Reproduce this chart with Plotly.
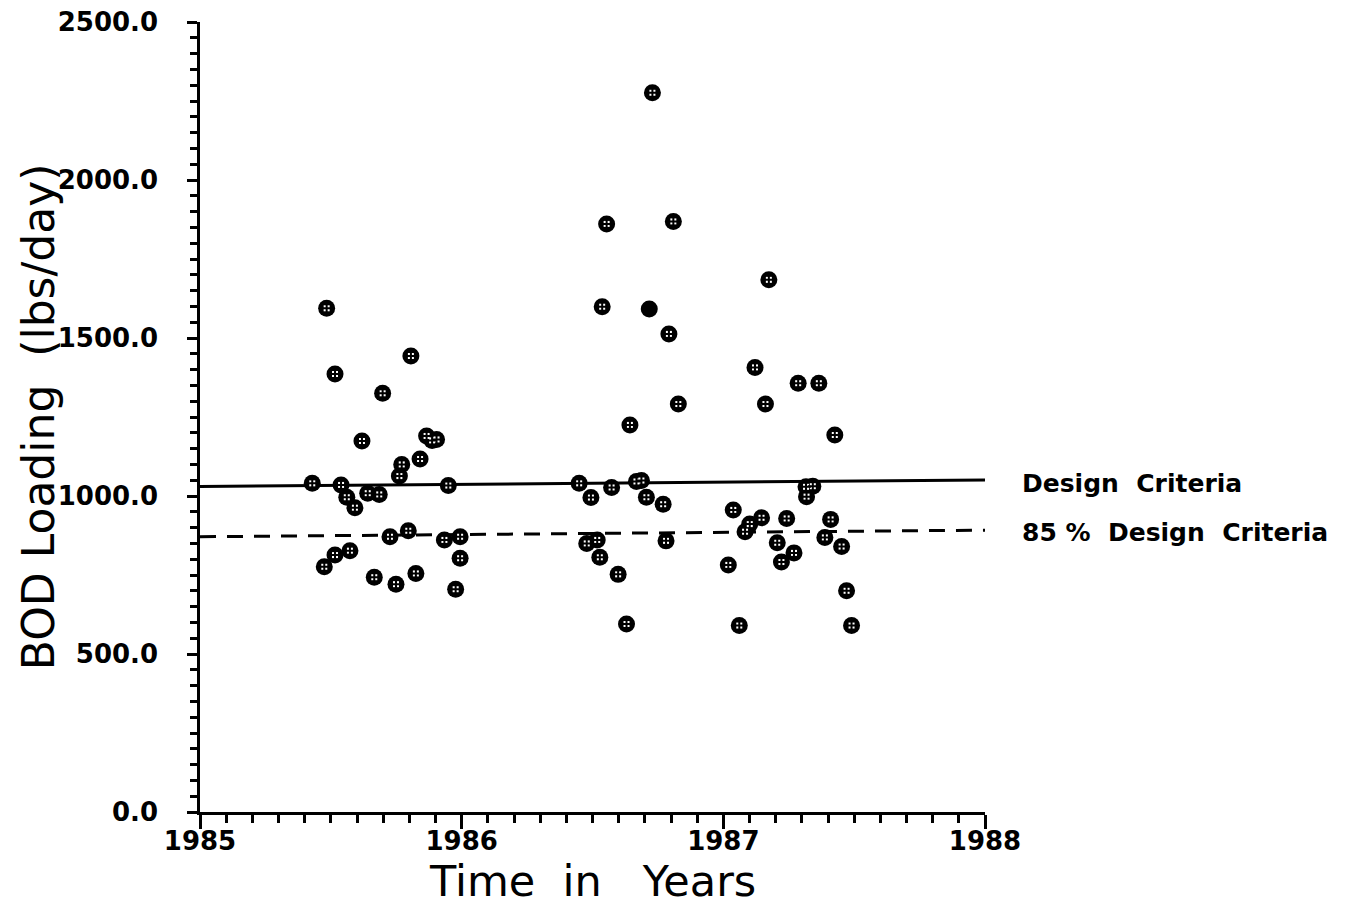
import plotly.graph_objects as go

# ---- data ----
dates = [
    1985.429, 1985.484, 1985.516, 1985.698, 1985.806, 1985.619, 1985.866, 1985.887,
    1985.904, 1985.841, 1985.771, 1985.762, 1985.539, 1985.561, 1985.592, 1985.641,
    1985.685, 1985.949, 1985.726, 1985.796, 1985.934, 1985.994, 1985.994, 1985.516,
    1985.573, 1985.475, 1985.666, 1985.749, 1985.825, 1985.977,
    1986.729, 1986.554, 1986.809, 1986.537, 1986.792, 1986.828, 1986.643, 1986.449,
    1986.494, 1986.573, 1986.668, 1986.687, 1986.706, 1986.770, 1986.478, 1986.518,
    1986.528, 1986.598, 1986.781, 1986.630,
    1987.174, 1987.121, 1987.286, 1987.365, 1987.161, 1987.426, 1987.316, 1987.342,
    1987.318, 1987.038, 1987.019, 1987.061, 1987.083, 1987.101, 1987.146, 1987.242,
    1987.410, 1987.388, 1987.206, 1987.222, 1987.270, 1987.452, 1987.471, 1987.490,
]
bod_loading = [
    1040, 1594, 1386, 1325, 1443, 1174, 1190, 1176,
    1179, 1117, 1100, 1063, 1035, 996, 963, 1009,
    1005, 1033, 871, 890, 861, 871, 803, 813,
    827, 776, 743, 721, 755, 705,
    2276, 1861, 1869, 1599, 1513, 1291, 1225, 1040,
    995, 1027, 1046, 1049, 996, 974, 850, 861,
    806, 752, 858, 595,
    1684, 1407, 1357, 1357, 1291, 1193, 1029, 1031,
    998, 956, 782, 590, 887, 911, 931, 929,
    926, 869, 852, 791, 820, 840, 700, 590,
]
# one point printed as a solid dot
solid_dates = [1986.717]
solid_loading = [1592]

line_x = [1985.0, 1988.0]
design_criteria = [1030, 1051]
design_85 = [871, 892]

x_ticks = [1985, 1986, 1987, 1988]
y_ticks = [0, 500, 1000, 1500, 2000, 2500]
y_tick_labels = ["0.0", "500.0", "1000.0", "1500.0", "2000.0", "2500.0"]

# ---- figure ----
fig = go.Figure()

fig.add_trace(go.Scatter(x=line_x, y=design_criteria, mode="lines",
                         line=dict(color="black", width=3), hoverinfo="skip"))
fig.add_trace(go.Scatter(x=line_x, y=design_85, mode="lines",
                         line=dict(color="black", width=3, dash="16px,11px"),
                         hoverinfo="skip"))

# markers: black disc with four small white dots
fig.add_trace(go.Scatter(x=dates, y=bod_loading, mode="markers",
                         marker=dict(symbol="circle", size=17, color="black",
                                     line=dict(width=0))))
fig.add_trace(go.Scatter(x=dates, y=bod_loading, mode="markers", hoverinfo="skip",
                         marker=dict(symbol="square", size=6, color="white",
                                     line=dict(width=0))))
fig.add_trace(go.Scatter(x=dates, y=bod_loading, mode="markers", hoverinfo="skip",
                         marker=dict(symbol="cross-thin", size=7,
                                     line=dict(width=2, color="black"))))
fig.add_trace(go.Scatter(x=solid_dates, y=solid_loading, mode="markers",
                         marker=dict(symbol="circle", size=17, color="black",
                                     line=dict(width=0))))

tick_font = dict(family="DejaVu Sans", size=26, color="black", weight="bold")

# the page body adds an 8px offset; margins are shifted to compensate
fig.update_layout(
    width=1359, height=904,
    margin=dict(l=192, r=382, t=14, b=100, autoexpand=False),
    paper_bgcolor="white", plot_bgcolor="white",
    showlegend=False,
    xaxis=dict(
        range=[1985, 1988], showgrid=False, zeroline=False, automargin=False,
        showline=True, linewidth=2.5, linecolor="black",
        tickmode="array", tickvals=x_ticks, ticktext=[str(v) for v in x_ticks],
        ticks="outside", ticklen=14, tickwidth=2.5, tickcolor="black",
        minor=dict(dtick=0.1, tick0=1985, ticks="outside", ticklen=8,
                   tickwidth=2.5, tickcolor="black", showgrid=False),
        tickfont=tick_font, ticklabelstandoff=-10, ticklabeloverflow="allow",
    ),
    yaxis=dict(
        range=[0, 2500], showgrid=False, zeroline=False, automargin=False,
        showline=True, linewidth=2.5, linecolor="black",
        tickmode="array", tickvals=y_ticks, ticktext=y_tick_labels,
        ticks="outside", ticklen=10, tickwidth=2.5, tickcolor="black",
        minor=dict(dtick=50, tick0=0, ticks="outside", ticklen=7,
                   tickwidth=2.5, tickcolor="black", showgrid=False),
        tickfont=tick_font, ticklabelstandoff=24, ticklabeloverflow="allow",
    ),
    annotations=[
        dict(text="Time\u00a0\u00a0in\u00a0\u00a0\u00a0Years", xref="paper", yref="paper",
             x=0.5, y=-0.0873, xanchor="center", yanchor="middle", showarrow=False,
             font=dict(family="DejaVu Sans", size=43, color="black")),
        dict(text="BOD\u00a0Loading\u00a0\u00a0(lbs/day)", xref="paper", yref="paper",
             x=-0.2064, y=0.501, xanchor="center", yanchor="middle", showarrow=False,
             textangle=-90,
             font=dict(family="DejaVu Sans", size=44, color="black")),
        dict(text="Design\u00a0\u00a0Criteria", xref="paper", yref="y",
             x=(1020 - 200) / 785, y=1040, xanchor="left", yanchor="middle",
             showarrow=False,
             font=dict(family="DejaVu Sans", size=25, color="black", weight="bold")),
        dict(text="85\u00a0%\u00a0\u00a0Design\u00a0\u00a0Criteria", xref="paper", yref="y",
             x=(1020 - 200) / 785, y=883, xanchor="left", yanchor="middle",
             showarrow=False,
             font=dict(family="DejaVu Sans", size=25, color="black", weight="bold")),
    ],
)

fig.write_html("out.html")
